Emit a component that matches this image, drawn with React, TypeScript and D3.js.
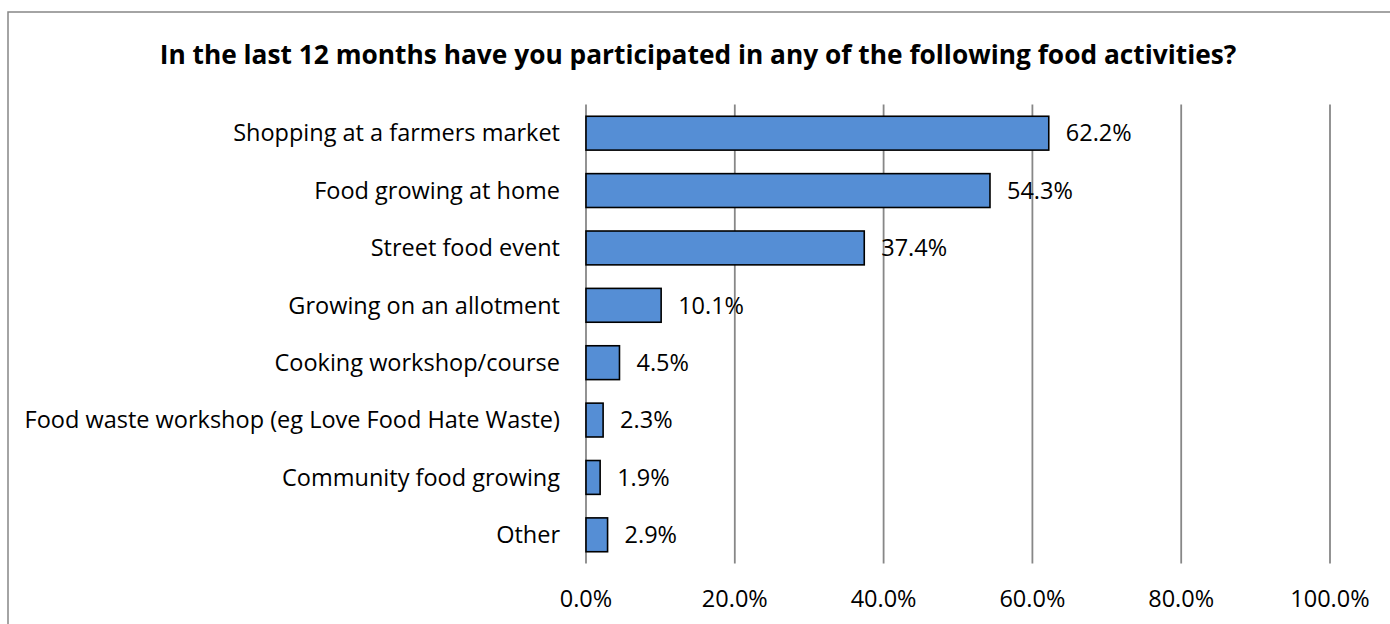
import { useRef, useEffect } from 'react';
import * as d3 from 'd3';

const title =
  'In the last 12 months have you participated in any of the following food activities?';

const categories = [
  'Shopping at a farmers market',
  'Food growing at home',
  'Street food event',
  'Growing on an allotment',
  'Cooking workshop/course',
  'Food waste workshop (eg Love Food Hate Waste)',
  'Community food growing',
  'Other',
];

const values = [62.2, 54.3, 37.4, 10.1, 4.5, 2.3, 1.9, 2.9];

const xTicks = [0, 20, 40, 60, 80, 100];

const App = () => {
  const svgRef = useRef<SVGSVGElement>(null);

  useEffect(() => {
    if (!svgRef.current) return;

    const width = 1390;
    const height = 624;
    const font = "'Open Sans', sans-serif";

    const svg = d3
      .select(svgRef.current)
      .attr('width', width)
      .attr('height', height);

    svg.selectAll('*').remove();

    // chart area border (runs off the right and bottom edges)
    svg
      .append('rect')
      .attr('x', 8)
      .attr('y', 12)
      .attr('width', width + 20)
      .attr('height', height + 20)
      .attr('fill', 'white')
      .attr('stroke', '#878787')
      .attr('stroke-width', 1.5);

    svg
      .append('text')
      .attr('x', 698)
      .attr('y', 64)
      .attr('text-anchor', 'middle')
      .attr('font-family', font)
      .attr('font-weight', 'bold')
      .attr('font-size', 26.3)
      .attr('fill', '#000')
      .text(title);

    const x = d3.scaleLinear().domain([0, 100]).range([586, 1330]);

    const y = d3
      .scaleBand<string>()
      .domain(categories)
      .range([104.5, 563.5])
      .paddingInner(0.41)
      .paddingOuter(0.205);

    // gridlines
    svg
      .append('g')
      .selectAll('line')
      .data(xTicks)
      .enter()
      .append('line')
      .attr('x1', (d) => x(d))
      .attr('x2', (d) => x(d))
      .attr('y1', 104.5)
      .attr('y2', 563.5)
      .attr('stroke', '#878787')
      .attr('stroke-width', 1.8);

    // tick labels
    svg
      .append('g')
      .selectAll('text')
      .data(xTicks)
      .enter()
      .append('text')
      .attr('x', (d) => x(d))
      .attr('y', 606.5)
      .attr('text-anchor', 'middle')
      .attr('font-family', font)
      .attr('font-size', 23.5)
      .attr('fill', '#000')
      .text((d) => `${d.toFixed(1)}%`);

    const rows = categories.map((c, i) => ({ category: c, value: values[i] }));

    // bars
    svg
      .append('g')
      .selectAll('rect')
      .data(rows)
      .enter()
      .append('rect')
      .attr('x', x(0))
      .attr('y', (d) => y(d.category)!)
      .attr('width', (d) => x(d.value) - x(0))
      .attr('height', y.bandwidth())
      .attr('fill', '#558ED5')
      .attr('stroke', '#000')
      .attr('stroke-width', 1.6);

    // category labels
    svg
      .append('g')
      .selectAll('text')
      .data(rows)
      .enter()
      .append('text')
      .attr('x', 560)
      .attr('y', (d) => y(d.category)! + y.bandwidth() / 2)
      .attr('dy', '0.35em')
      .attr('text-anchor', 'end')
      .attr('font-family', font)
      .attr('font-size', 23.5)
      .attr('fill', '#000')
      .text((d) => d.category);

    // value labels
    svg
      .append('g')
      .selectAll('text')
      .data(rows)
      .enter()
      .append('text')
      .attr('x', (d) => x(d.value) + 17)
      .attr('y', (d) => y(d.category)! + y.bandwidth() / 2)
      .attr('dy', '0.35em')
      .attr('font-family', font)
      .attr('font-size', 23.5)
      .attr('fill', '#000')
      .text((d) => `${d.value.toFixed(1)}%`);
  }, []);

  return (
    <svg
      ref={svgRef}
      style={{ position: 'absolute', left: 0, top: 0, display: 'block' }}
    ></svg>
  );
};

export default App;
